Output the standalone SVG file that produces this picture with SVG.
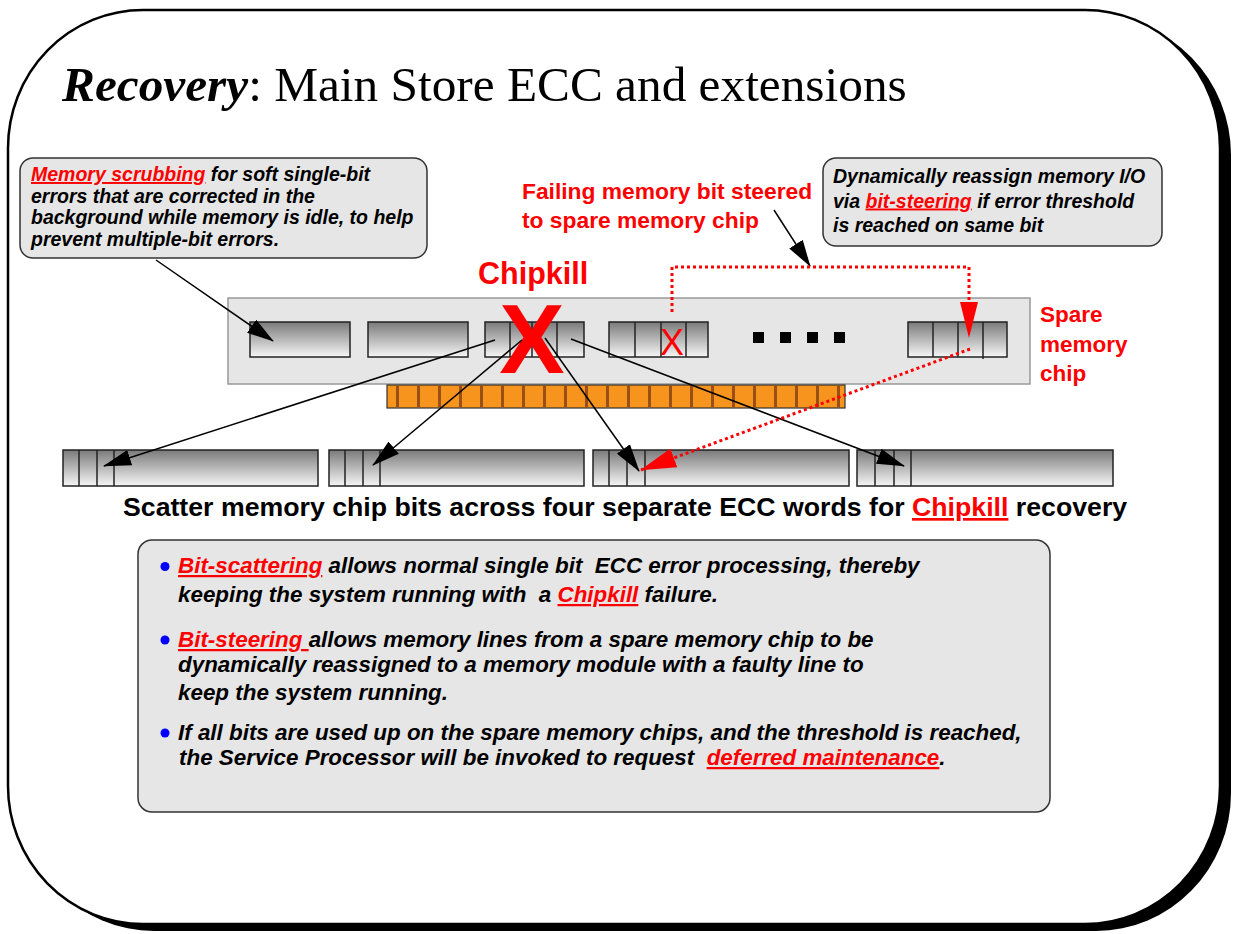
<svg xmlns="http://www.w3.org/2000/svg" width="1233" height="934" viewBox="0 0 1233 934">
<style>
.bi{font-family:"Liberation Sans",Arial,sans-serif;font-weight:bold;font-style:italic;fill:#000;white-space:pre}
.b{font-family:"Liberation Sans",Arial,sans-serif;font-weight:bold;fill:#000;white-space:pre}
.red{fill:#ff0000}
.u{text-decoration:underline}
.box{fill:#e6e6e6;stroke:#333;stroke-width:1.5}
.chip{fill:url(#g);stroke:#222;stroke-width:1.5}
.div{stroke:#222;stroke-width:1.5}
.ln{stroke:#000;stroke-width:1.5;fill:none}
.dot{stroke:#ff0000;stroke-width:3;stroke-dasharray:3 3;fill:none}
.stripe{fill:#9a4f16}
</style>
<defs>
<linearGradient id="g" x1="0" y1="0" x2="0" y2="1">
<stop offset="0" stop-color="#7a7a7a"/>
<stop offset="1" stop-color="#f6f6f6"/>
</linearGradient>
<marker id="ah" markerUnits="userSpaceOnUse" markerWidth="28" markerHeight="16" refX="27" refY="8" orient="auto">
<path d="M0,0 L28,8 L0,16 Z" fill="#000"/>
</marker>
<marker id="ahs" markerUnits="userSpaceOnUse" markerWidth="27" markerHeight="16" refX="26" refY="8" orient="auto">
<path d="M0,0 L27,8 L0,16 Z" fill="#000"/>
</marker>
<marker id="ahr" markerUnits="userSpaceOnUse" markerWidth="36" markerHeight="20" refX="35" refY="10" orient="auto">
<path d="M0,0 L36,10 L0,20 Z" fill="#ff0000"/>
</marker>
</defs>

<g id="frame">
<rect x="19" y="17" width="1212" height="914" rx="135" ry="138" fill="#000"/>
<rect x="8" y="10" width="1212" height="914" rx="135" ry="138" fill="#fff" stroke="#000" stroke-width="2.5"/>
</g>

<g id="title">
<text x="62" y="101" font-family="'Liberation Serif','Times New Roman',serif" font-size="49.3"><tspan font-weight="bold" font-style="italic">Recovery</tspan>: Main Store ECC and extensions</text>
</g>

<g id="scrub-note">
<rect class="box" x="20" y="158" width="407" height="100" rx="13"/>
<text class="bi" font-size="19.5"><tspan x="31" y="181"><tspan class="red u">Memory scrubbing</tspan> for soft single-bit</tspan><tspan x="31" y="202.5">errors that are corrected in the</tspan><tspan x="31" y="224">background while memory is idle, to help</tspan><tspan x="31" y="245.5">prevent multiple-bit errors.</tspan></text>
</g>

<g id="steer-note">
<rect class="box" x="823" y="158" width="339" height="88" rx="13"/>
<text class="bi" font-size="19.5"><tspan x="833" y="183">Dynamically reassign memory I/O</tspan><tspan x="833" y="207.5">via <tspan class="red u">bit-steering</tspan> if error threshold</tspan><tspan x="833" y="232">is reached on same bit</tspan></text>
</g>

<g id="failing-label">
<text class="b red" font-size="22.8"><tspan x="522" y="199">Failing memory bit steered</tspan><tspan x="522" y="228">to spare memory chip</tspan></text>
</g>

<g id="chipkill-label">
<text class="b red" x="478" y="284" font-size="30.5">Chipkill</text>
</g>

<g id="spare-label">
<text class="b red" font-size="22.5"><tspan x="1040" y="322">Spare</tspan><tspan x="1040" y="352">memory</tspan><tspan x="1040" y="381">chip</tspan></text>
</g>

<g id="module">
<rect x="228" y="298" width="802" height="86" fill="#e6e6e6" stroke="#999" stroke-width="1.5"/>
<rect x="387" y="385" width="458" height="23" fill="#f7941d" stroke="#333" stroke-width="1.2"/>
<g id="pins">
<rect class="stripe" x="396" y="386" width="3" height="21"/><rect class="stripe" x="417" y="386" width="3" height="21"/><rect class="stripe" x="438" y="386" width="3" height="21"/><rect class="stripe" x="459" y="386" width="3" height="21"/><rect class="stripe" x="480" y="386" width="3" height="21"/><rect class="stripe" x="501" y="386" width="3" height="21"/><rect class="stripe" x="522" y="386" width="3" height="21"/><rect class="stripe" x="543" y="386" width="3" height="21"/><rect class="stripe" x="564" y="386" width="3" height="21"/><rect class="stripe" x="585" y="386" width="3" height="21"/><rect class="stripe" x="606" y="386" width="3" height="21"/><rect class="stripe" x="627" y="386" width="3" height="21"/><rect class="stripe" x="648" y="386" width="3" height="21"/><rect class="stripe" x="669" y="386" width="3" height="21"/><rect class="stripe" x="690" y="386" width="3" height="21"/><rect class="stripe" x="711" y="386" width="3" height="21"/><rect class="stripe" x="732" y="386" width="3" height="21"/><rect class="stripe" x="753" y="386" width="3" height="21"/><rect class="stripe" x="774" y="386" width="3" height="21"/><rect class="stripe" x="795" y="386" width="3" height="21"/><rect class="stripe" x="816" y="386" width="3" height="21"/><rect class="stripe" x="837" y="386" width="3" height="21"/>
</g>
</g>

<g id="chip1"><rect class="chip" x="250" y="322" width="100" height="35"/></g>
<g id="chip2"><rect class="chip" x="368" y="322" width="100" height="35"/></g>
<g id="chip3">
<rect class="chip" x="485" y="322" width="99" height="35"/>
<line class="div" x1="510" y1="322" x2="510" y2="357"/><line class="div" x1="532" y1="322" x2="532" y2="357"/><line class="div" x1="557" y1="322" x2="557" y2="357"/>
<text x="532" y="373" text-anchor="middle" font-family="'Liberation Sans',Arial,sans-serif" font-weight="bold" font-size="98" fill="#ff0000">X</text>
</g>
<g id="chip4">
<rect class="chip" x="609" y="322" width="99" height="35"/>
<line class="div" x1="635" y1="322" x2="635" y2="357"/><line class="div" x1="661" y1="322" x2="661" y2="357"/><line class="div" x1="686" y1="322" x2="686" y2="357"/>
<text x="672" y="355" text-anchor="middle" font-family="'Liberation Sans',Arial,sans-serif" font-size="36" fill="#ff0000">X</text>
</g>
<g id="ellipsis">
<rect x="753" y="332" width="11" height="11" fill="#000"/><rect x="780" y="332" width="11" height="11" fill="#000"/><rect x="807" y="332" width="11" height="11" fill="#000"/><rect x="834" y="332" width="11" height="11" fill="#000"/>
</g>
<g id="spare-chip">
<rect class="chip" x="908" y="322" width="99" height="35"/>
<line class="div" x1="933" y1="322" x2="933" y2="357"/><line class="div" x1="958" y1="322" x2="958" y2="357"/><line class="div" x1="983" y1="322" x2="983" y2="359"/>
</g>

<g id="ecc1"><rect class="chip" x="63" y="450" width="255" height="36"/><line class="div" x1="79" y1="450" x2="79" y2="486"/><line class="div" x1="97" y1="450" x2="97" y2="486"/><line class="div" x1="114" y1="450" x2="114" y2="486"/></g>
<g id="ecc2"><rect class="chip" x="329" y="450" width="255" height="36"/><line class="div" x1="345" y1="450" x2="345" y2="486"/><line class="div" x1="363" y1="450" x2="363" y2="486"/><line class="div" x1="380" y1="450" x2="380" y2="486"/></g>
<g id="ecc3"><rect class="chip" x="593" y="450" width="256" height="36"/><line class="div" x1="609" y1="450" x2="609" y2="486"/><line class="div" x1="627" y1="450" x2="627" y2="486"/><line class="div" x1="645" y1="450" x2="645" y2="486"/></g>
<g id="ecc4"><rect class="chip" x="857" y="450" width="256" height="36"/><line class="div" x1="875" y1="450" x2="875" y2="486"/><line class="div" x1="894" y1="450" x2="894" y2="486"/><line class="div" x1="911" y1="450" x2="911" y2="486"/></g>

<g id="connectors">
<line class="ln" x1="156" y1="260" x2="273" y2="341" marker-end="url(#ahs)"/>
<line class="ln" x1="774" y1="210" x2="810" y2="266" marker-end="url(#ahs)"/>
<line class="ln" x1="495" y1="340" x2="104" y2="466" marker-end="url(#ah)"/>
<line class="ln" x1="522" y1="340" x2="373" y2="465" marker-end="url(#ah)"/>
<line class="ln" x1="545" y1="338" x2="639" y2="471" marker-end="url(#ah)"/>
<line class="ln" x1="571" y1="339" x2="904" y2="466" marker-end="url(#ah)"/>
<polyline class="dot" points="672,312 672,267 969,267 969,304"/>
<path d="M960,302 L978,302 L969,338 Z" fill="#ff0000"/>
<line class="dot" x1="970" y1="349" x2="641" y2="470" marker-end="url(#ahr)"/>
</g>

<g id="caption">
<text class="b" x="123" y="516" font-size="26.7">Scatter memory chip bits across four separate ECC words for <tspan class="red u">Chipkill</tspan> recovery</text>
</g>

<g id="bullets">
<rect class="box" x="138" y="540" width="912" height="272" rx="14"/>
<circle cx="165" cy="566.5" r="4.5" fill="#0000ff"/>
<circle cx="165" cy="640" r="4.5" fill="#0000ff"/>
<circle cx="165" cy="733" r="4.5" fill="#0000ff"/>
<text class="bi" font-size="22.4">
<tspan x="178" y="573"><tspan class="red u">Bit-scattering</tspan> allows normal single bit  ECC error processing, thereby</tspan>
<tspan x="178" y="602">keeping the system running with  a <tspan class="red u">Chipkill</tspan> failure.</tspan>
<tspan x="178" y="647"><tspan class="red u">Bit-steering </tspan>allows memory lines from a spare memory chip to be</tspan>
<tspan x="178" y="672">dynamically reassigned to a memory module with a faulty line to</tspan>
<tspan x="178" y="700">keep the system running.</tspan>
<tspan x="178" y="740">If all bits are used up on the spare memory chips, and the threshold is reached,</tspan>
<tspan x="179" y="765">the Service Processor will be invoked to request  <tspan class="red u">deferred maintenance</tspan>.</tspan>
</text>
</g>
</svg>
